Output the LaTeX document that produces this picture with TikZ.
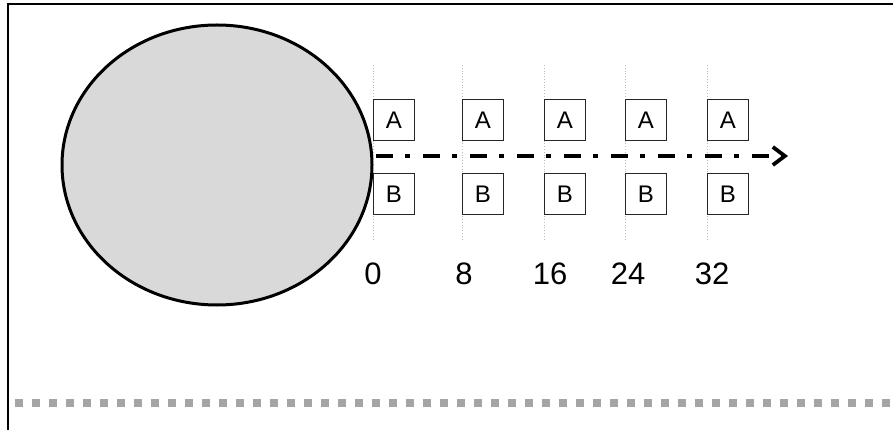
\documentclass[tikz,border=0pt]{standalone}
\usepackage{fontspec}
\setmainfont{Liberation Sans}
\usetikzlibrary{arrows.meta,shapes.geometric}
\definecolor{blobfill}{RGB}{217,217,217}
\definecolor{squaregray}{RGB}{165,165,165}
\definecolor{guidegray}{RGB}{185,185,185}
\begin{document}
\begin{tikzpicture}[x=1pt,y=-1pt,
  cell/.style={draw=black!85, line width=0.9pt, minimum width=41pt, minimum height=41pt,
    inner sep=0pt, anchor=north west, font=\fontsize{24}{24}\selectfont},
  tick/.style={inner sep=0pt, font=\fontsize{31}{31}\selectfont},
  guide/.style={draw=guidegray, line width=0.8pt, dotted},
  flow/.style={line width=3.6pt, dash pattern=on 17pt off 12pt on 5pt off 13pt,
    -{Straight Barb[length=12pt,width=18pt,line width=3.8pt]}}]
\useasboundingbox (0,0) rectangle (893,430);

% frame edges
\draw[line width=1.5pt] (8,430) -- (8,4) -- (893,4);

% large shaded ellipse
\node[draw, ellipse, fill=blobfill, line width=3pt, minimum width=310pt,
  minimum height=280pt, inner sep=0pt] (blob) at (217,165) {};

% guide lines, cells and tick labels
\foreach \i/\x/\lx/\t in {0/373/373/0, 1/462/464/8, 2/544/550/16, 3/625/628/24, 4/707/712/32} {
  \coordinate (g\i top) at (\x,65);
  \coordinate (g\i bot) at (\x,240);
  \draw[guide] (g\i top) -- (g\i bot);
  \node[cell] (A\i) at (\x,99) {A};
  \node[cell] (B\i) at (\x,173) {B};
  \node[tick] (L\i) at (\lx,274) {\t};
}

% dash-dot arrow
\coordinate (start) at (376,156);
\coordinate (end) at (788,156);
\draw[flow] (start) -- (end);

% gray square dashes along the bottom
\coordinate (sq0) at (15,403);
\coordinate (sq1) at (893,403);
\draw[squaregray, line width=8pt, dash pattern=on 8pt off 9pt] (sq0) -- (sq1);
\end{tikzpicture}
\end{document}
